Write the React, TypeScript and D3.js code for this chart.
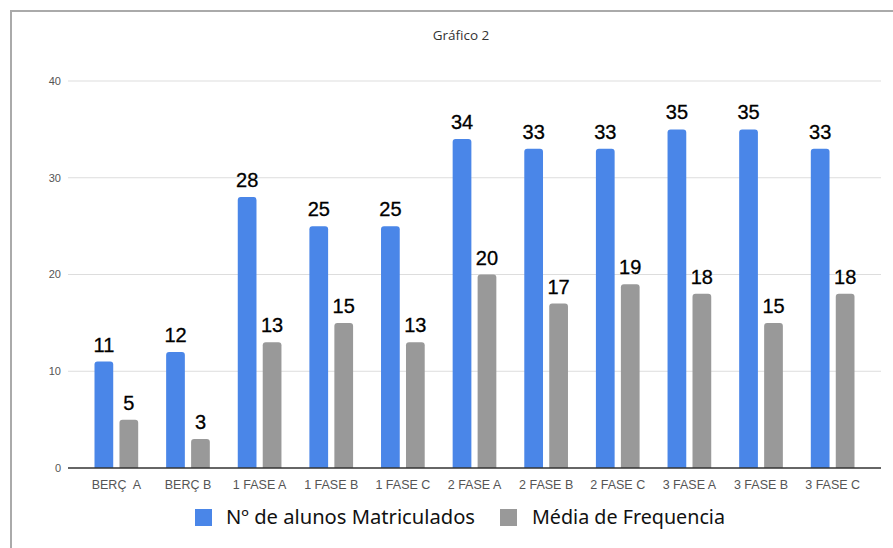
import React from 'react';
import * as d3 from 'd3';

// turmas e valores
const turmas = ['BERÇ  A', 'BERÇ B', '1 FASE A', '1 FASE B', '1 FASE C', '2 FASE A', '2 FASE B', '2 FASE C', '3 FASE A', '3 FASE B', '3 FASE C'];
const matriculados = [11, 12, 28, 25, 25, 34, 33, 33, 35, 35, 33];
const frequencia = [5, 3, 13, 15, 13, 20, 17, 19, 18, 15, 18];
const series = ['Nº de alunos Matriculados', 'Média de Frequencia'];
const colors = ['#4a86e8', '#999999'];
const yTicks = [0, 10, 20, 30, 40];

const W = 893, H = 548;
const margin = { top: 81, right: 12, bottom: 80, left: 68 };

const App = () => {
  const innerW = W - margin.left - margin.right;
  const innerH = H - margin.top - margin.bottom;

  const x0 = d3.scaleBand().domain(turmas).range([0, innerW]).paddingInner(0.39).paddingOuter(0.37);
  const x1 = d3.scaleBand().domain(series).range([0, x0.bandwidth()]).paddingInner(0.25);
  const y = d3.scaleLinear().domain([0, 40]).range([innerH, 0]);

  const rows = turmas.map((t, i) => ({ turma: t, values: [matriculados[i], frequencia[i]] }));

  // barra com cantos superiores arredondados
  const barPath = (bx: number, by: number, bw: number, bh: number) => {
    const r = Math.min(3, bh);
    return `M${bx},${by + bh}V${by + r}Q${bx},${by} ${bx + r},${by}H${bx + bw - r}Q${bx + bw},${by} ${bx + bw},${by + r}V${by + bh}Z`;
  };

  return (
    <svg width={W} height={H} style={{ position: 'absolute', left: 0, top: 0, background: '#fff' }}>
      <rect x={11} y={11} width={W + 20} height={H + 20} fill="#fff" stroke="#aaaaaa" strokeWidth={2} />
      <text x={461} y={40} textAnchor="middle" fontFamily="'Open Sans', sans-serif" fontSize={13.5} fill="#333">Gráfico 2</text>
      <g transform={`translate(${margin.left},${margin.top})`}>
        {yTicks.map(t => (
          <g key={t}>
            {t > 0 && <line x1={0} x2={innerW} y1={y(t)} y2={y(t)} stroke="#dddddd" strokeWidth={1} />}
            <text x={-7} y={y(t)} dy="0.35em" textAnchor="end" fontFamily="'Liberation Sans', Arial, sans-serif" fontSize={11} fill="#555">{t}</text>
          </g>
        ))}
        {rows.map(r => (
          <g key={r.turma} transform={`translate(${x0(r.turma)},0)`}>
            {r.values.map((v, j) => {
              const bx = x1(series[j]) ?? 0;
              const bw = x1.bandwidth();
              return (
                <g key={j}>
                  <path d={barPath(bx, y(v), bw, innerH - y(v))} fill={colors[j]} />
                  <text x={bx + bw / 2} y={y(v) - 10} textAnchor="middle" fontFamily="'Liberation Sans', Arial, sans-serif" fontSize={20} fill="#000" stroke="#000" strokeWidth={0.3}>{v}</text>
                </g>
              );
            })}
            <text x={x0.bandwidth() / 2} y={innerH + 21} textAnchor="middle" fontFamily="'Liberation Sans', Arial, sans-serif" fontSize={12.5} fill="#555" style={{ whiteSpace: 'pre' }}>{r.turma}</text>
          </g>
        ))}
        <line x1={0} x2={innerW} y1={innerH} y2={innerH} stroke="#333" strokeWidth={1.5} />
      </g>
      <g>
        <rect x={195} y={509} width={17} height={17} fill={colors[0]} />
        <text x={226} y={524} fontFamily="'Noto Sans', sans-serif" fontSize={19} fill="#111" textLength={249} lengthAdjust="spacingAndGlyphs">{series[0]}</text>
        <rect x={500} y={509} width={17} height={17} fill={colors[1]} />
        <text x={532} y={524} fontFamily="'Noto Sans', sans-serif" fontSize={19} fill="#111" textLength={193} lengthAdjust="spacingAndGlyphs">{series[1]}</text>
      </g>
    </svg>
  );
};

export default App;
